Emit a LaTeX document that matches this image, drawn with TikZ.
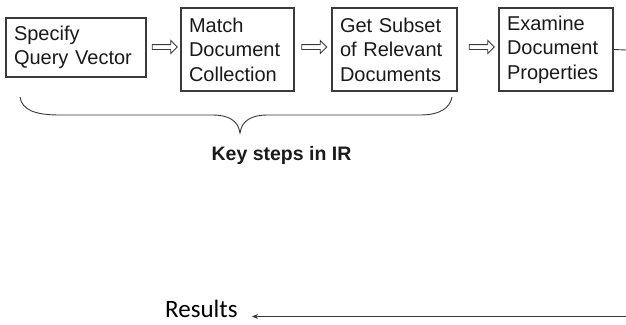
\documentclass[tikz,border=0pt]{standalone}
\usepackage{fontspec}
\setmainfont{Liberation Sans}
\newfontfamily\resfont{Carlito}
\usetikzlibrary{shapes.arrows,arrows.meta}
\definecolor{linegray}{HTML}{3A3A3A}
\definecolor{textgray}{HTML}{1A1A1A}
\begin{document}
\begin{tikzpicture}[x=1pt,y=-1pt,
  stepbox/.style={draw=linegray, line width=1.1pt, text=textgray, align=left,
    inner xsep=8pt, inner ysep=0pt, font=\fontsize{20}{24.5}\selectfont, anchor=center},
  hollowarrow/.style={single arrow, draw=linegray, line width=0.9pt, fill=white,
    minimum height=25pt, minimum width=12pt, inner sep=2pt, single arrow head extend=4pt},
  conn/.style={draw=linegray, line width=0.9pt}]
\useasboundingbox (0,0) rectangle (626,324);
\fill[white] (0,0) rectangle (626,324);

\node[stepbox, text width=124pt, minimum height=59pt] (b1) at (76,47.5) {Specify\\Query Vector};
\node[stepbox, text width=97pt, minimum height=83pt] (b2) at (237.5,49.5) {Match\\Document\\Collection};
\node[stepbox, text width=109pt, minimum height=83pt] (b3) at (394.5,49.5) {Get Subset\\of Relevant\\Documents};
\node[stepbox, text width=98pt, minimum height=83pt] (b4) at (556,49.5) {Examine\\Document\\Properties};

\node[hollowarrow] (a1) at (163.5,47) {};
\node[hollowarrow] (a2) at (313,47) {};
\node[hollowarrow] (a3) at (480.5,47) {};

% brace
\coordinate (brL) at (20,97);
\coordinate (brR) at (452,97);
\coordinate (brT) at (240,133);
\draw[conn] (brL) .. controls (22,110) and (35,115) .. (60,115)
  -- (212,115) .. controls (228,115) and (238,120) .. (brT)
  .. controls (242,120) and (252,115) .. (268,115)
  -- (420,115) .. controls (440,115) and (450,108) .. (brR);
\node[font=\bfseries\fontsize{19.5}{22}\selectfont, text=textgray, anchor=base] (key) at (281.5,160) {Key steps in IR};

% feedback line
\coordinate (rt) at (626,50);
\draw[conn] (b4.east) -- (rt);
\node[font=\resfont\fontsize{25}{28}\selectfont, text=black, anchor=base west, inner sep=0pt] (res) at (165,317) {Results};
\coordinate (rb) at (626,316.5);
\draw[conn, -{Stealth[length=6pt,width=5pt]}] (rb) -- (252,316.5);
\end{tikzpicture}
\end{document}
